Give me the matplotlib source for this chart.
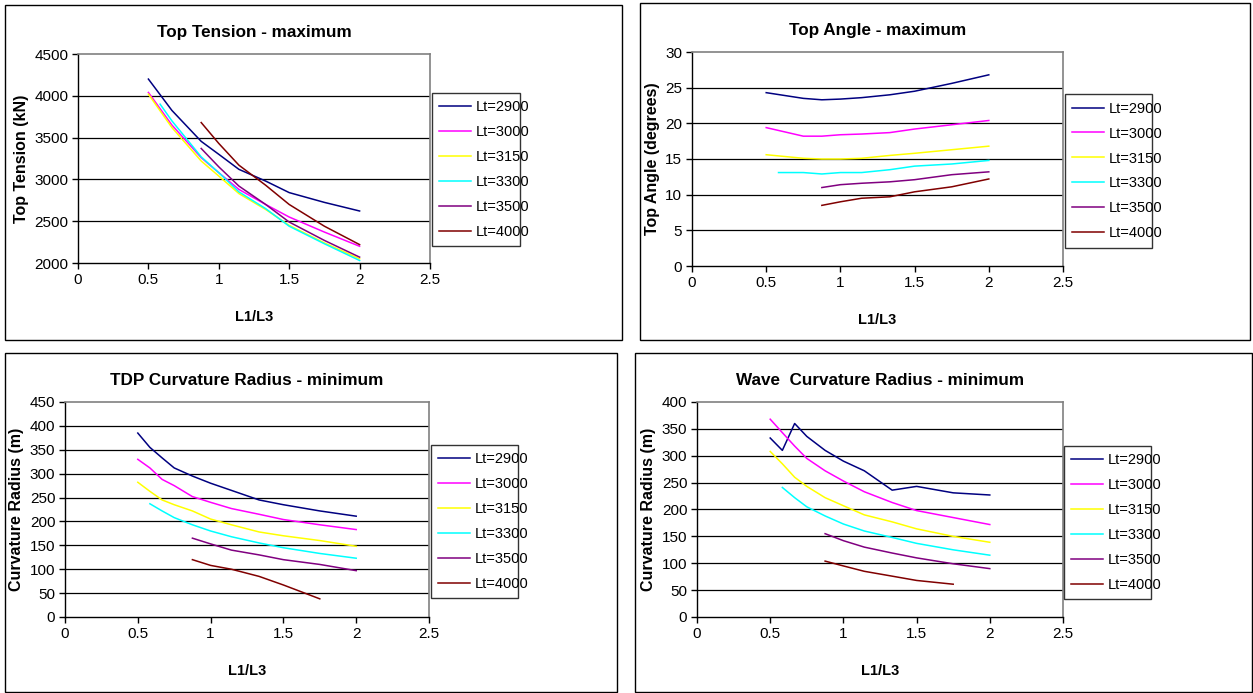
import matplotlib
matplotlib.use("Agg")
import matplotlib.pyplot as plt
from matplotlib.patches import Rectangle

plt.rcParams['font.family'] = ['Liberation Sans', 'DejaVu Sans']

W, H = 1253, 693

labels = ["Lt=2900", "Lt=3000", "Lt=3150", "Lt=3300", "Lt=3500", "Lt=4000"]
colors = ["#000080", "#FF00FF", "#FFFF00", "#00FFFF", "#800080", "#800000"]

# L1/L3 values
x_full = [0.5, 0.583, 0.667, 0.75, 0.875, 1.0, 1.143, 1.333, 1.5, 1.75, 2.0]

# ---- Top Tension - maximum ----
tt_x = [
    [0.5, 0.667, 0.875, 1.0, 1.143, 1.333, 1.5, 1.75, 2.0],
    [0.5, 0.667, 0.875, 1.0, 1.143, 1.333, 1.5, 1.75, 2.0],
    [0.5, 0.667, 0.875, 1.0, 1.143, 1.333, 1.5, 1.75, 2.0],
    [0.583, 0.667, 0.875, 1.0, 1.143, 1.333, 1.5, 1.75, 2.0],
    [0.875, 1.0, 1.143, 1.333, 1.5, 1.75, 2.0],
    [0.875, 1.0, 1.143, 1.333, 1.5, 1.75, 2.0],
]
tt_y = [
    [4200, 3825, 3455, 3300, 3120, 2980, 2842, 2725, 2622],
    [4040, 3650, 3260, 3080, 2880, 2700, 2550, 2370, 2200],
    [4020, 3620, 3220, 3040, 2830, 2640, 2450, 2240, 2050],
    [3900, 3700, 3270, 3080, 2850, 2650, 2440, 2230, 2030],
    [3370, 3150, 2920, 2700, 2490, 2270, 2070],
    [3680, 3430, 3170, 2930, 2700, 2440, 2220],
]

# ---- Top Angle - maximum ----
ta_x = [
    [0.5, 0.75, 0.875, 1.0, 1.143, 1.333, 1.5, 1.75, 2.0],
    [0.5, 0.75, 0.875, 1.0, 1.143, 1.333, 1.5, 1.75, 2.0],
    [0.5, 0.75, 0.875, 1.0, 1.143, 1.333, 1.5, 1.75, 2.0],
    [0.583, 0.75, 0.875, 1.0, 1.143, 1.333, 1.5, 1.75, 2.0],
    [0.875, 1.0, 1.143, 1.333, 1.5, 1.75, 2.0],
    [0.875, 1.0, 1.143, 1.333, 1.5, 1.75, 2.0],
]
ta_y = [
    [24.3, 23.5, 23.3, 23.4, 23.6, 24.0, 24.5, 25.6, 26.8],
    [19.4, 18.2, 18.2, 18.4, 18.5, 18.7, 19.2, 19.8, 20.4],
    [15.6, 15.1, 15.0, 15.0, 15.1, 15.5, 15.8, 16.3, 16.8],
    [13.1, 13.1, 12.9, 13.1, 13.1, 13.5, 14.0, 14.3, 14.8],
    [11.0, 11.4, 11.6, 11.8, 12.1, 12.8, 13.2],
    [8.5, 9.0, 9.5, 9.7, 10.4, 11.1, 12.2],
]

# ---- TDP Curvature Radius - minimum ----
tdp_x = [
    x_full,
    x_full,
    x_full,
    [0.583, 0.667, 0.75, 0.875, 1.0, 1.143, 1.333, 1.5, 1.75, 2.0],
    [0.875, 1.0, 1.143, 1.333, 1.5, 1.75, 2.0],
    [0.875, 1.0, 1.143, 1.333, 1.5, 1.75],
]
tdp_y = [
    [385, 355, 333, 312, 295, 280, 265, 245, 235, 222, 211],
    [330, 312, 288, 275, 252, 240, 227, 215, 204, 193, 183],
    [282, 263, 245, 235, 222, 205, 193, 178, 170, 160, 148],
    [237, 222, 208, 193, 180, 168, 155, 145, 133, 123],
    [165, 153, 140, 130, 120, 110, 97],
    [120, 108, 100, 85, 67, 38],
]

# ---- Wave Curvature Radius - minimum ----
wv_x = [
    x_full,
    x_full,
    x_full,
    [0.583, 0.667, 0.75, 0.875, 1.0, 1.143, 1.333, 1.5, 1.75, 2.0],
    [0.875, 1.0, 1.143, 1.333, 1.5, 1.75, 2.0],
    [0.875, 1.0, 1.143, 1.333, 1.5, 1.75],
]
wv_y = [
    [333, 310, 360, 336, 310, 290, 272, 236, 243, 231, 227],
    [368, 343, 318, 295, 272, 253, 233, 213, 198, 185, 172],
    [308, 285, 260, 243, 222, 207, 190, 177, 164, 150, 139],
    [241, 222, 205, 188, 173, 160, 148, 137, 125, 115],
    [155, 142, 130, 119, 110, 99, 90],
    [104, 95, 85, 76, 68, 61],
]

fig = plt.figure(figsize=(W / 100, H / 100), dpi=100)


def fx(px):
    return px / W


def fy(py):
    return 1 - py / H


panels = [
    dict(title="Top Tension - maximum", ylabel="Top Tension (kN)", xs=tt_x, ys=tt_y,
         ylim=(2000, 4500), ystep=500, box=(5, 5, 622, 340),
         plot=(78, 54, 430, 263), leg=(432, 93, 520, 246)),
    dict(title="Top Angle - maximum", ylabel="Top Angle (degrees)", xs=ta_x, ys=ta_y,
         ylim=(0, 30), ystep=5, box=(640, 3, 1250, 340),
         plot=(692, 52, 1063, 266), leg=(1065, 95, 1152, 247)),
    dict(title="TDP Curvature Radius - minimum", ylabel="Curvature Radius (m)", xs=tdp_x, ys=tdp_y,
         ylim=(0, 450), ystep=50, box=(5, 353, 617, 692),
         plot=(65, 402, 429, 617), leg=(431, 446, 518, 597)),
    dict(title="Wave  Curvature Radius - minimum", ylabel="Curvature Radius (m)", xs=wv_x, ys=wv_y,
         ylim=(0, 400), ystep=50, box=(635, 353, 1252, 692),
         plot=(697, 402, 1063, 617), leg=(1064, 447, 1151, 598)),
]

for p in panels:
    bx0, by0, bx1, by1 = p["box"]
    fig.patches.append(Rectangle((fx(bx0), fy(by1)), fx(bx1 - bx0), (by1 - by0) / H,
                                 transform=fig.transFigure, fill=False,
                                 edgecolor="black", linewidth=1.0))
    x0, y0, x1, y1 = p["plot"]
    ax = fig.add_axes([fx(x0), fy(y1), fx(x1 - x0), (y1 - y0) / H])
    handles = []
    for xs, ys, c, lab in zip(p["xs"], p["ys"], colors, labels):
        h, = ax.plot(xs, ys, color=c, linewidth=1.1, label=lab)
        handles.append(h)
    ax.set_xlim(0, 2.5)
    ax.set_ylim(*p["ylim"])
    ax.set_xticks([0, 0.5, 1, 1.5, 2, 2.5])
    ax.set_xticklabels(["0", "0.5", "1", "1.5", "2", "2.5"])
    yt = list(range(p["ylim"][0], p["ylim"][1] + 1, p["ystep"]))
    ax.set_yticks(yt)
    ax.set_yticklabels([str(v) for v in yt])
    for v in yt[1:-1]:
        ax.axhline(v, color="black", linewidth=0.9, zorder=0)
    ax.tick_params(axis="both", direction="out", length=4, width=1, labelsize=11, pad=3)
    for s in ["top", "right"]:
        ax.spines[s].set_color("#808080")
        ax.spines[s].set_linewidth(1.2)
    for s in ["left", "bottom"]:
        ax.spines[s].set_color("black")
        ax.spines[s].set_linewidth(1.0)
    ax.set_title(p["title"], fontsize=12.3, fontweight="bold", pad=12)
    ax.set_xlabel("L1/L3", fontsize=10.5, fontweight="bold", labelpad=17)
    ax.set_ylabel(p["ylabel"], fontsize=11.5, fontweight="bold", labelpad=4)
    lx0, ly0, lx1, ly1 = p["leg"]
    leg = fig.legend(handles=handles, loc="center left",
                     bbox_to_anchor=(fx(lx0), fy(ly1), fx(lx1 - lx0), (ly1 - ly0) / H),
                     mode="expand", fontsize=10.5, frameon=True, fancybox=False,
                     borderaxespad=0, handlelength=2.2, handletextpad=0.3,
                     labelspacing=0.75, borderpad=0.5)
    leg.get_frame().set_edgecolor("black")
    leg.get_frame().set_linewidth(1.0)

fig.savefig("out.png", dpi=100)
